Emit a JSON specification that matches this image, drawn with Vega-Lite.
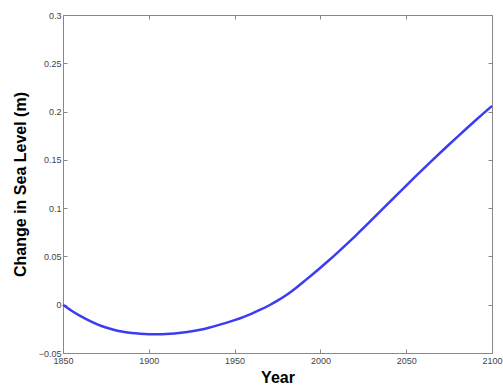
{
  "$schema": "https://vega.github.io/schema/vega-lite/v6.json",
  "width": 429,
  "height": 338,
  "autosize": "none",
  "padding": {"left": 63, "top": 15, "right": 11, "bottom": 37},
  "background": "white",
  "config": {
    "view": {"stroke": "#888888", "strokeWidth": 1},
    "axis": {
      "grid": false,
      "domainColor": "#888888",
      "tickColor": "#888888",
      "tickSize": -4,
      "labelFont": "Liberation Sans",
      "labelFontSize": 9,
      "labelColor": "#444444",
      "titleFont": "Liberation Sans",
      "titleFontSize": 16,
      "titleFontWeight": "bold",
      "titleColor": "#000000"
    }
  },
  "data": {
    "values": [
      {"year": 1850, "level": 0.0},
      {"year": 1855, "level": -0.0062},
      {"year": 1860, "level": -0.0115},
      {"year": 1865, "level": -0.0162},
      {"year": 1870, "level": -0.0203},
      {"year": 1875, "level": -0.0236},
      {"year": 1880, "level": -0.0262},
      {"year": 1885, "level": -0.0281},
      {"year": 1890, "level": -0.0294},
      {"year": 1895, "level": -0.0301},
      {"year": 1900, "level": -0.0305},
      {"year": 1905, "level": -0.0306},
      {"year": 1910, "level": -0.0304},
      {"year": 1915, "level": -0.0298},
      {"year": 1920, "level": -0.0288},
      {"year": 1925, "level": -0.0275},
      {"year": 1930, "level": -0.0259},
      {"year": 1935, "level": -0.0238},
      {"year": 1940, "level": -0.0214},
      {"year": 1945, "level": -0.0188},
      {"year": 1950, "level": -0.0160},
      {"year": 1955, "level": -0.0128},
      {"year": 1960, "level": -0.0092},
      {"year": 1965, "level": -0.0052},
      {"year": 1970, "level": -0.0008},
      {"year": 1975, "level": 0.0042},
      {"year": 1980, "level": 0.0098},
      {"year": 1985, "level": 0.0163},
      {"year": 1990, "level": 0.0235},
      {"year": 1995, "level": 0.0308},
      {"year": 2000, "level": 0.0383},
      {"year": 2005, "level": 0.0460},
      {"year": 2010, "level": 0.0540},
      {"year": 2015, "level": 0.0622},
      {"year": 2020, "level": 0.0706},
      {"year": 2025, "level": 0.0792},
      {"year": 2030, "level": 0.0880},
      {"year": 2035, "level": 0.0968},
      {"year": 2040, "level": 0.1057},
      {"year": 2045, "level": 0.1146},
      {"year": 2050, "level": 0.1234},
      {"year": 2055, "level": 0.1321},
      {"year": 2060, "level": 0.1407},
      {"year": 2065, "level": 0.1492},
      {"year": 2070, "level": 0.1576},
      {"year": 2075, "level": 0.1659},
      {"year": 2080, "level": 0.1741},
      {"year": 2085, "level": 0.1822},
      {"year": 2090, "level": 0.1902},
      {"year": 2095, "level": 0.1981},
      {"year": 2100, "level": 0.2058}
    ]
  },
  "resolve": {"axis": {"x": "independent", "y": "independent"}},
  "layer": [
    {
      "mark": {"type": "line", "color": "#3c3cf2", "strokeWidth": 2.5, "interpolate": "natural"},
      "encoding": {
        "x": {
          "field": "year", "type": "quantitative",
          "scale": {"domain": [1850, 2100], "nice": false, "zero": false},
          "axis": {"title": "Year", "values": [1850, 1900, 1950, 2000, 2050, 2100], "format": "d", "labelPadding": 7, "titlePadding": 4, "labelFlush": false}
        },
        "y": {
          "field": "level", "type": "quantitative",
          "scale": {"domain": [-0.05, 0.3], "nice": false, "zero": false},
          "axis": {"title": "Change in Sea Level (m)", "values": [-0.05, 0, 0.05, 0.1, 0.15, 0.2, 0.25, 0.3], "format": "~g", "labelPadding": 6, "titlePadding": 10, "labelFlush": false, "labelBaseline": "middle"}
        }
      }
    },
    {
      "mark": {"type": "line", "opacity": 0},
      "encoding": {
        "x": {
          "field": "year", "type": "quantitative",
          "scale": {"domain": [1850, 2100], "nice": false, "zero": false},
          "axis": {"orient": "top", "title": null, "labels": false, "domain": false, "values": [1850, 1900, 1950, 2000, 2050, 2100]}
        },
        "y": {
          "field": "level", "type": "quantitative",
          "scale": {"domain": [-0.05, 0.3], "nice": false, "zero": false},
          "axis": {"orient": "right", "title": null, "labels": false, "domain": false, "values": [-0.05, 0, 0.05, 0.1, 0.15, 0.2, 0.25, 0.3]}
        }
      }
    }
  ]
}
